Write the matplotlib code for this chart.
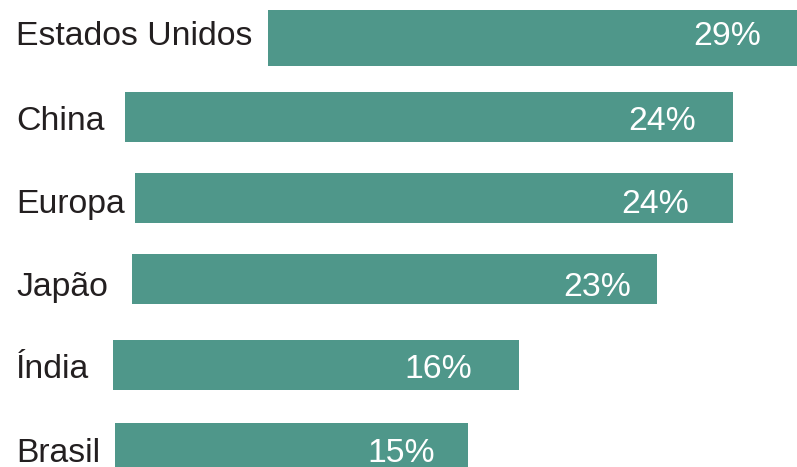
import matplotlib.pyplot as plt

plt.rcParams['font.family'] = ['Liberation Sans', 'DejaVu Sans']

# data (x in chart units, 0..797)
countries = ['Estados Unidos', 'China', 'Europa', 'Japão', 'Índia', 'Brasil']
shares = [29, 24, 24, 23, 16, 15]
bar_start = [268, 125, 135, 132, 113, 115]
bar_end = [800, 733, 733, 657, 519, 468]

# layout
row_top = [10, 92, 173, 254, 340, 423]
row_height = [56, 50, 50, 50, 50, 50]
baseline = [45, 130, 213, 296, 378, 462]
pct_right = [761, 696, 689, 631, 472, 435]

BAR = '#4f978a'
INK = '#231f20'

fig = plt.figure(figsize=(7.97, 4.67), dpi=100)
ax = fig.add_axes([0, 0, 1, 1])
ax.set_xlim(0, 797)
ax.set_ylim(467, 0)
ax.axis('off')

widths = [e - s for s, e in zip(bar_start, bar_end)]
ax.barh(row_top, widths, left=bar_start, height=row_height,
        align='edge', color=BAR, linewidth=0)

for name, val, yb, xr in zip(countries, shares, baseline, pct_right):
    ax.text(16, yb, name, fontsize=24.3, color=INK, va='baseline', ha='left')
    ax.text(xr, yb, '{}%'.format(val), fontsize=24.3, color='white',
            va='baseline', ha='right')

fig.savefig('out.png', dpi=100)
